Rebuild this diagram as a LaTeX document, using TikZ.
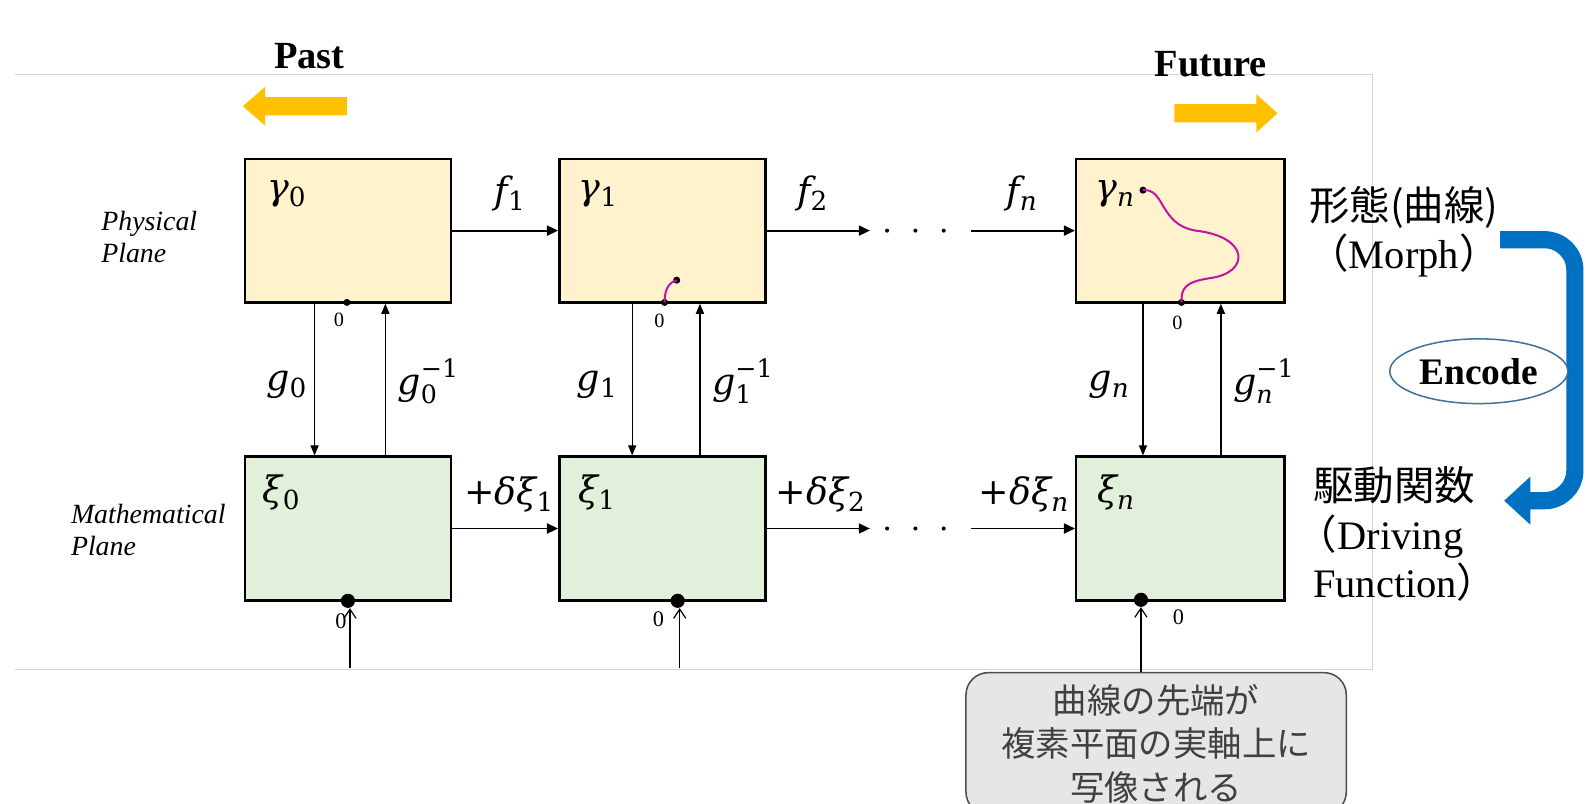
\documentclass[tikz,border=0pt]{standalone}
\usepackage{fontspec}
\setmainfont{Liberation Serif}
\newfontfamily\cjk{Noto Sans CJK JP}
\newfontfamily\mfont{DejaVu Serif}
\usetikzlibrary{arrows.meta,shapes.geometric,calc}
\newcommand{\symmain}[1]{{\mfont\fontsize{36}{40}\selectfont #1}}
\newcommand{\symsub}[1]{\raisebox{-7pt}{\mfont\fontsize{26}{28}\selectfont #1}}
\newcommand{\symlab}[2]{\symmain{\itshape #1}\symsub{#2}}
\newcommand{\symlabinv}[1]{\symmain{\itshape g}\rlap{\raisebox{-9pt}{\mfont\fontsize{25}{26}\selectfont #1}}\raisebox{17pt}{\mfont\fontsize{25}{26}\selectfont −1}}
\definecolor{physfill}{HTML}{FFF2CC}
\definecolor{mathfill}{HTML}{E2EFDA}
\definecolor{gold}{HTML}{FFC000}
\definecolor{encblue}{HTML}{0070C0}
\definecolor{ellblue}{HTML}{41719C}
\definecolor{curvecol}{HTML}{C0179E}
\definecolor{framegray}{HTML}{D4D4D4}
\definecolor{notefill}{HTML}{E7E6E6}
\definecolor{notetext}{HTML}{404040}
\tikzset{
  box/.style={draw, line width=2.5pt, minimum width=204pt, minimum height=142pt, inner sep=0pt},
  pbox/.style={box, fill=physfill},
  mbox/.style={box, fill=mathfill},
  arr/.style={line width=1.8pt, -{Triangle[length=11pt,width=10pt]}},
  varr/.style={line width=1.3pt, -{Triangle[length=10pt,width=8pt]}},
  openarr/.style={line width=1.2pt, -{Straight Barb[length=9pt,width=12pt]}},
  mlab/.style={inner sep=0pt},
  zero/.style={font=\fontsize{20}{22}\selectfont, inner sep=0pt},
  zerob/.style={font=\fontsize{22}{24}\selectfont, inner sep=0pt},
  sdot/.style={circle, fill=black, inner sep=0pt, minimum size=7pt},
  bdot/.style={circle, fill=black, inner sep=0pt, minimum size=14pt},
  curveline/.style={curvecol, line width=2pt},
  dotsmark/.style={circle, fill=black, inner sep=0pt, minimum size=4pt},
  sidelab/.style={font=\fontsize{27.5}{32}\selectfont\itshape, align=left, inner sep=0pt},
  bigbold/.style={font=\fontsize{38}{40}\selectfont\bfseries, inner sep=0pt},
  rightlab/.style={font=\fontsize{40}{48}\selectfont, inner sep=0pt},
}
\begin{document}
\begin{tikzpicture}[x=1pt,y=-1pt]
\useasboundingbox (0,0) rectangle (1568,794);
% frame
\draw[framegray, line width=1pt] (15,74) -- (1357,74) -- (1357,662) -- (15,662);

% Past / Future
\node[bigbold] (past) at (306,55) {Past};
\node[bigbold] (future) at (1197,63) {Future};
\fill[gold] (240,105) -- (262,86) -- (262,96) -- (343,96) -- (343,114) -- (262,114) -- (262,124) -- cycle;
\fill[gold] (1263,112) -- (1242,93) -- (1242,103) -- (1161,103) -- (1161,121) -- (1242,121) -- (1242,131) -- cycle;

% plane labels
\node[sidelab, anchor=west] (physlab) at (100,234) {Physical\\Plane};
\node[sidelab, anchor=west] (mathlab) at (70,524) {Mathematical\\Plane};

% boxes
\node[pbox] (p0) at (344,228) {};
\node[pbox] (p1) at (655,228) {};
\node[pbox, minimum width=206pt] (pn) at (1167,228) {};
\node[mbox] (m0) at (344,522.5) {};
\node[mbox] (m1) at (655,522.5) {};
\node[mbox, minimum width=206pt] (mn) at (1167,522.5) {};

% box titles
\node[mlab] (tp0) at (283,192) {\symlab{γ}{0}};
\node[mlab] (tp1) at (591,192) {\symlab{γ}{1}};
\node[mlab] (tpn) at (1102,192) {\symlab{γ}{\itshape n}};
\node[mlab] (tm0) at (278,487) {\symlab{ξ}{0}};
\node[mlab] (tm1) at (590,487) {\symlab{ξ}{1}};
\node[mlab] (tmn) at (1103,487) {\symlab{ξ}{\itshape n}};

% horizontal arrows, physical
\coordinate (pd1) at (860,228);
\coordinate (pd2) at (960,228);
\draw[arr] (p0.east) -- (p1.west);
\draw[arr] (p1.east) -- (pd1);
\draw[arr] (pd2) -- (pn.west);
\node[dotsmark] (pdA) at (877,228) {};
\node[dotsmark] (pdB) at (905,228) {};
\node[dotsmark] (pdC) at (933,228) {};
\node[mlab] (f1) at (504,191) {\symlab{f}{1}};
\node[mlab] (f2) at (803,191) {\symlab{f}{2}};
\node[mlab] (fn) at (1010,191) {\symlab{f}{\itshape n}};

% horizontal arrows, mathematical
\coordinate (md1) at (860,522.5);
\coordinate (md2) at (960,522.5);
\draw[arr] (m0.east) -- (m1.west);
\draw[arr] (m1.east) -- (md1);
\draw[arr] (md2) -- (mn.west);
\node[dotsmark] (mdA) at (877,522.5) {};
\node[dotsmark] (mdB) at (905,522.5) {};
\node[dotsmark] (mdC) at (933,522.5) {};
\node[mlab] (d1) at (503,489) {\symmain{+\itshape δξ}\symsub{1}};
\node[mlab] (d2) at (811,489) {\symmain{+\itshape δξ}\symsub{2}};
\node[mlab] (dn) at (1012,489) {\symmain{+\itshape δξ}\symsub{\itshape n}};

% vertical arrows
\draw[varr] ([xshift=-33pt]p0.south) -- ([xshift=-33pt]m0.north);
\draw[varr] ([xshift=37pt]m0.north) -- ([xshift=37pt]p0.south);
\draw[varr] ([xshift=-30pt]p1.south) -- ([xshift=-30pt]m1.north);
\draw[varr] ([xshift=37pt]m1.north) -- ([xshift=37pt]p1.south);
\draw[varr] ([xshift=-37pt]pn.south) -- ([xshift=-37pt]mn.north);
\draw[varr] ([xshift=40pt]mn.north) -- ([xshift=40pt]pn.south);
\node[mlab] (g0) at (283,380) {\symlab{g}{0}};
\node[mlab] (gi0) at (423,377) {\symlabinv{0}};
\node[mlab] (g1) at (590,380) {\symlab{g}{1}};
\node[mlab] (gi1) at (734,377) {\symlabinv{1}};
\node[mlab] (gn) at (1096,380) {\symlab{g}{\itshape n}};
\node[mlab] (gin) at (1249,377) {\symlabinv{\itshape n}};

% physical zero points and curves
\node[sdot] (z0) at (343,299) {};
\node[zero] (z0l) at (335,316) {0};
\node[sdot] (z1) at (657,299) {};
\node[sdot] (z1e) at (669,277) {};
\draw[curveline] (z1.center) .. controls (657,285) and (662,279) .. (z1e.center);
\node[zero] (z1l) at (652,317) {0};
\node[sdot] (zn) at (1168,299) {};
\node[sdot] (zne) at (1130,188) {};
\draw[curveline] (zne.center) .. controls (1152,186) and (1146,222) .. (1182,228)
  .. controls (1236,234) and (1236,270) .. (1196,275)
  .. controls (1170,279) and (1168,286) .. (zn.center);
\node[zero] (znl) at (1164,319) {0};

% mathematical zero points
\node[bdot] (w0) at (344,594) {};
\node[zerob] (w0l) at (337,614) {0};
\node[bdot] (w1) at (670,594) {};
\node[zerob] (w1l) at (651,612) {0};
\node[bdot] (wn) at (1128,593) {};
\node[zerob] (wnl) at (1165,610) {0};
\coordinate (b0) at (346,660);
\coordinate (b1) at (672,660);
\draw[openarr] (b0) -- (b0 |- w0.south);
\draw[openarr] (b1) -- (b1 |- w1.south);

% note box
\node[draw=black!70, line width=1.5pt, fill=notefill, rounded corners=22pt,
      minimum width=376pt, minimum height=140pt, align=center, text=notetext,
      font=\cjk\fontsize{34}{43}\selectfont] (note) at (1143,735)
      {曲線の先端が\\複素平面の実軸上に\\写像される};
\draw[openarr] (note.north -| wn) -- (wn.south);

% right labels
\node[rightlab, align=center] (morph) at (1388,229)
  {{\cjk 形態(曲線)}\\{\cjk （}Morph{\cjk ）}};
\node[rightlab, align=left, anchor=west] (drive) at (1298,528)
  {{\cjk 駆動関数}\\{\cjk\hspace*{-0.4em}（}Driving\\Function{\cjk ）}};
\coordinate (encA) at (1483,237);
\coordinate (encB) at (1487,495);
\draw[encblue, line width=17pt, rounded corners=30pt, -{Triangle[length=26pt,width=46pt]}]
  (encA) -- (1557,237) -- (1557,495) -- (encB);
\node[ellipse, draw=ellblue, line width=1.5pt, fill=white, minimum width=176pt, minimum height=64pt,
      inner sep=0pt, font=\fontsize{37}{38}\selectfont\bfseries] (enc) at (1462,367) {Encode};
\end{tikzpicture}
\end{document}
